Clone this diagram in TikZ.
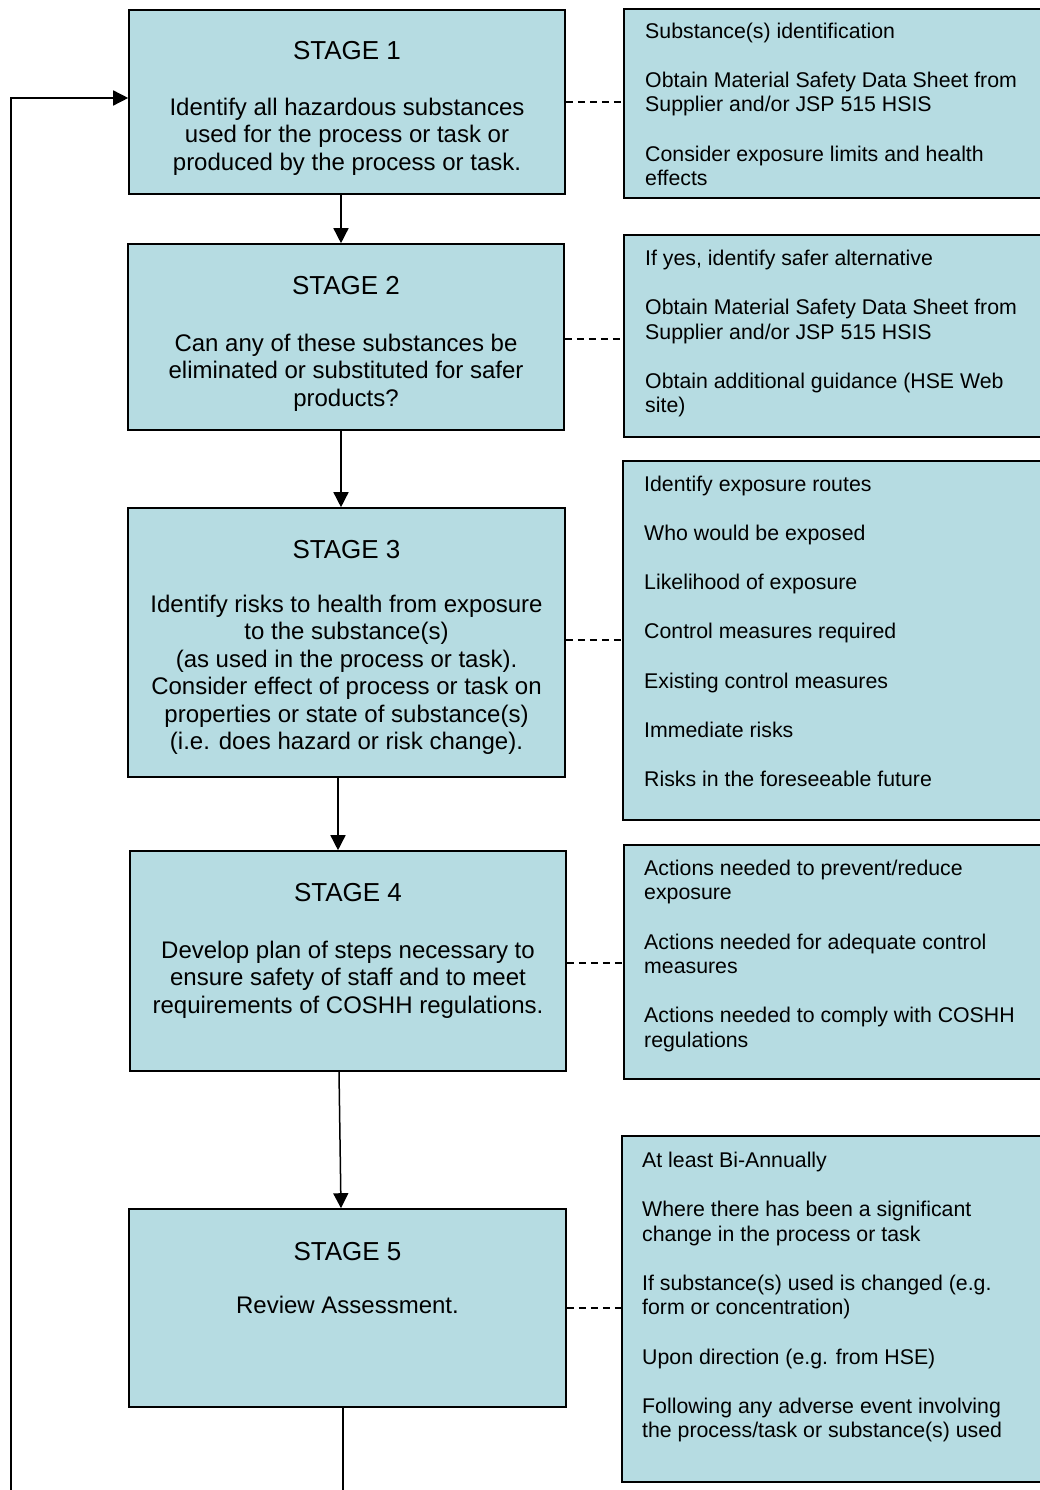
\documentclass[tikz,border=0pt]{standalone}
\usepackage{fontspec}
\setmainfont{Liberation Sans}
\usetikzlibrary{arrows.meta}
\definecolor{boxfill}{RGB}{182,220,226}
\begin{document}
\begin{tikzpicture}[x=1pt,y=-1pt,
 stagebox/.style={draw=black, line width=1.6pt, fill=boxfill, inner sep=0pt},
 notebox/.style={draw=black, line width=1.6pt, fill=boxfill, inner sep=0pt},
 titletext/.style={font=\fontsize{26}{30}\selectfont, anchor=base, inner sep=0pt},
 bodytext/.style={font=\fontsize{24}{27.5}\selectfont, align=center, anchor=north, inner sep=0pt},
 notetext/.style={font=\fontsize{21.3}{24.6}\selectfont, align=left, anchor=north west, inner sep=0pt},
 arr/.style={line width=1.5pt, -{Triangle[length=15pt,width=15pt]}},
 link/.style={line width=1.3pt, dash pattern=on 7pt off 5pt}]
\useasboundingbox (0,0) rectangle (1040,1490);
\clip (0,0) rectangle (1040,1490);

% stage boxes
\node[stagebox, minimum width=436pt, minimum height=184pt] (S1) at (347,102) {};
\node[stagebox, minimum width=436pt, minimum height=186pt] (S2) at (346,337) {};
\node[stagebox, minimum width=437pt, minimum height=269pt] (S3) at (346.5,642.5) {};
\node[stagebox, minimum width=436pt, minimum height=220pt] (S4) at (348,961) {};
\node[stagebox, minimum width=437pt, minimum height=198pt] (S5) at (347.5,1308) {};

% note boxes
\node[notebox, minimum width=426pt, minimum height=189pt] (R1) at (837,103.5) {};
\node[notebox, minimum width=426pt, minimum height=202pt] (R2) at (837,336) {};
\node[notebox, minimum width=427pt, minimum height=359pt] (R3) at (836.5,640.5) {};
\node[notebox, minimum width=426pt, minimum height=234pt] (R4) at (837,962) {};
\node[notebox, minimum width=428pt, minimum height=346pt] (R5) at (836,1309) {};

% stage texts
\node[titletext] (t1) at (347,59.5) {STAGE 1};
\node[bodytext] (b1) at (347,93) {\rule{0pt}{22pt}Identify all hazardous substances\\used for the process or task or\\produced by the process or task.};
\node[titletext] (t2) at (346,294.5) {STAGE 2};
\node[bodytext] (b2) at (346,329) {\rule{0pt}{22pt}Can any of these substances be\\eliminated or substituted for safer\\products?};
\node[titletext] (t3) at (346.5,558) {STAGE 3};
\node[bodytext] (b3) at (346.5,590) {\rule{0pt}{22pt}Identify risks to health from exposure\\to the substance(s)\\(as used in the process or task).\\Consider effect of process or task on\\properties or state of substance(s)\\(i.e. does hazard or risk change).};
\node[titletext] (t4) at (348,901.5) {STAGE 4};
\node[bodytext] (b4) at (348,936) {\rule{0pt}{22pt}Develop plan of steps necessary to\\ensure safety of staff and to meet\\requirements of COSHH regulations.};
\node[titletext] (t5) at (347.5,1260.5) {STAGE 5};
\node[bodytext] (b5) at (347.5,1291) {\rule{0pt}{22pt}Review Assessment.};

% note texts
\node[notetext] (n1) at (645,16) {\rule{0pt}{22pt}Substance(s) identification\\[24.6pt]Obtain Material Safety Data Sheet from\\Supplier and/or JSP 515 HSIS\\[24.6pt]Consider exposure limits and health\\effects};
\node[notetext] (n2) at (645,243) {\rule{0pt}{22pt}If yes, identify safer alternative\\[24.6pt]Obtain Material Safety Data Sheet from\\Supplier and/or JSP 515 HSIS\\[24.6pt]Obtain additional guidance (HSE Web\\site)};
\node[notetext] (n3) at (644,469) {\rule{0pt}{22pt}Identify exposure routes\\[24.6pt]Who would be exposed\\[24.6pt]Likelihood of exposure\\[24.6pt]Control measures required\\[24.6pt]Existing control measures\\[24.6pt]Immediate risks\\[24.6pt]Risks in the foreseeable future};
\node[notetext] (n4) at (644,853) {\rule{0pt}{22pt}Actions needed to prevent/reduce\\exposure\\[24.6pt]Actions needed for adequate control\\measures\\[24.6pt]Actions needed to comply with COSHH\\regulations};
\node[notetext] (n5) at (642,1145) {\rule{0pt}{22pt}At least Bi-Annually\\[24.6pt]Where there has been a significant\\change in the process or task\\[24.6pt]If substance(s) used is changed (e.g.\\form or concentration)\\[24.6pt]Upon direction (e.g. from HSE)\\[24.6pt]Following any adverse event involving\\the process/task or substance(s) used};

% flow arrows
\draw[arr] ([xshift=-6pt]S1.south) -- ([xshift=-5pt]S2.north);
\draw[arr] ([xshift=-5pt]S2.south) -- ([xshift=-5.5pt]S3.north);
\draw[arr] ([xshift=-8.5pt]S3.south) -- ([xshift=-10pt]S4.north);
\draw[arr] ([xshift=-9pt]S4.south) -- ([xshift=-6.5pt]S5.north);
\coordinate (out) at (343,1495);
\draw[line width=1.5pt] ([xshift=-4.5pt]S5.south) -- (out);

% loop back
\coordinate (loopbot) at (11,1495);
\coordinate (looptop) at (11,98);
\draw[arr] (loopbot) -- (looptop) -- (looptop -| S1.west);

% dashed links
\draw[link] (S1.east) -- (S1.east -| R1.west);
\draw[link] ([yshift=-2pt]S2.east) -- ([yshift=-2pt]S2.east -| R2.west);
\draw[link] ([yshift=2.5pt]S3.east) -- ([yshift=2.5pt]S3.east -| R3.west);
\draw[link] ([yshift=-2pt]S4.east) -- ([yshift=-2pt]S4.east -| R4.west);
\draw[link] (S5.east) -- (S5.east -| R5.west);
\end{tikzpicture}
\end{document}
